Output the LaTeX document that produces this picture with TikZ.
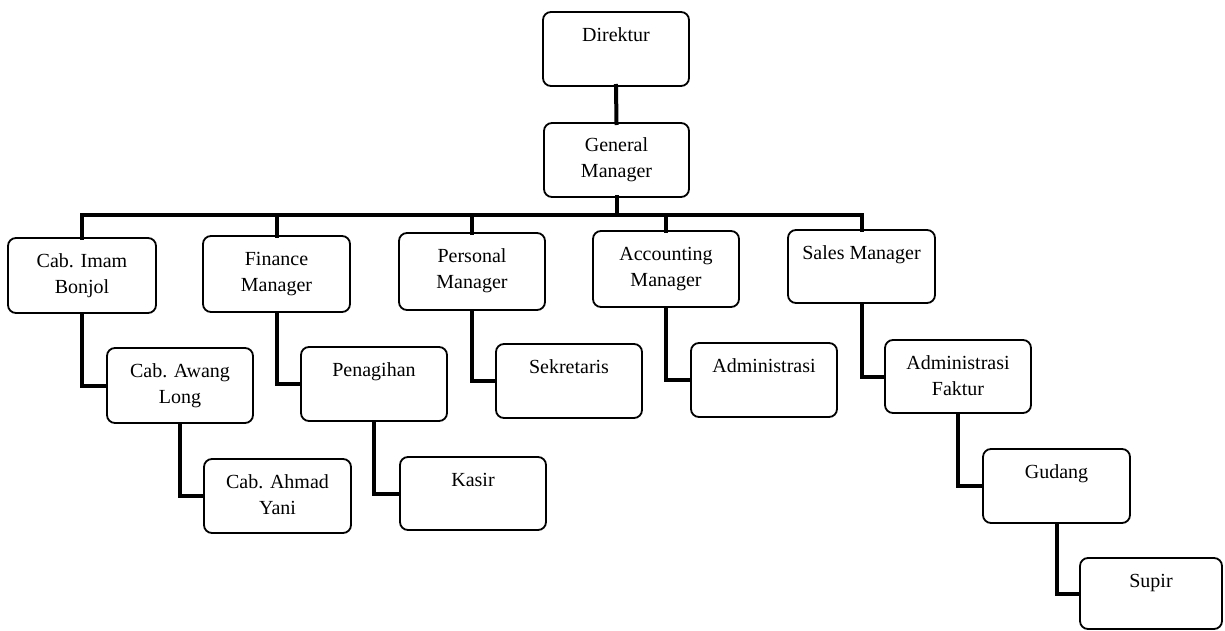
\documentclass[tikz,border=0pt]{standalone}
\usepackage{fontspec}
\setmainfont{Liberation Serif}
\usetikzlibrary{fit}
\begin{document}
\begin{tikzpicture}[x=0.5pt,y=-0.5pt,
  box/.style={draw, rounded corners=4pt, line width=0.9pt, inner sep=0pt, outer sep=0pt},
  lbl/.style={anchor=north, align=center, inner sep=0pt, font=\fontsize{10}{13}\selectfont},
  conn/.style={line width=2pt, line cap=rect}]
\useasboundingbox (0,0) rectangle (1225,631);
% boxes
\node[box, fit={(543,12) (689,86)}] (dir) {};
\node[box, fit={(544,123) (689,197)}] (gm) {};
\node[box, fit={(8,238) (156,313)}] (imam) {};
\node[box, fit={(203,236) (350,312)}] (fin) {};
\node[box, fit={(399,233) (545,310)}] (pers) {};
\node[box, fit={(593,231) (739,307)}] (acc) {};
\node[box, fit={(788,230) (935,303)}] (sales) {};
\node[box, fit={(107,348) (253,423)}] (awang) {};
\node[box, fit={(301,347) (447,421)}] (pen) {};
\node[box, fit={(496,344) (642,418)}] (sek) {};
\node[box, fit={(691,343) (837,417)}] (adm) {};
\node[box, fit={(885,340) (1031,413)}] (admf) {};
\node[box, fit={(204,459) (351,533)}] (ahmad) {};
\node[box, fit={(400,457) (546,530)}] (kasir) {};
\node[box, fit={(983,449) (1130,523)}] (gud) {};
\node[box, fit={(1080,558) (1222,629)}] (supir) {};
% labels
\node[lbl] (dir-t) at ([yshift=-5.5pt]dir.north) {\strut Direktur};
\node[lbl] (gm-t) at ([yshift=-5pt]gm.north) {\strut General\\Manager};
\node[lbl] (imam-t) at ([yshift=-5.5pt]imam.north) {\strut Cab. Imam\\Bonjol};
\node[lbl] (fin-t) at ([yshift=-5.5pt]fin.north) {\strut Finance\\Manager};
\node[lbl] (pers-t) at ([yshift=-5.5pt]pers.north) {\strut Personal\\Manager};
\node[lbl] (acc-t) at ([yshift=-5.5pt]acc.north) {\strut Accounting\\Manager};
\node[lbl] (sales-t) at ([yshift=-5.5pt]sales.north) {\strut Sales Manager};
\node[lbl] (awang-t) at ([yshift=-5.5pt]awang.north) {\strut Cab. Awang\\Long};
\node[lbl] (pen-t) at ([yshift=-5.5pt]pen.north) {\strut Penagihan};
\node[lbl] (sek-t) at ([yshift=-5.5pt]sek.north) {\strut Sekretaris};
\node[lbl] (adm-t) at ([yshift=-5.5pt]adm.north) {\strut Administrasi};
\node[lbl] (admf-t) at ([yshift=-5.5pt]admf.north) {\strut Administrasi\\Faktur};
\node[lbl] (ahmad-t) at ([yshift=-5.5pt]ahmad.north) {\strut Cab. Ahmad\\Yani};
\node[lbl] (kasir-t) at ([yshift=-5.5pt]kasir.north) {\strut Kasir};
\node[lbl] (gud-t) at ([yshift=-5.5pt]gud.north) {\strut Gudang};
\node[lbl] (supir-t) at ([yshift=-5.5pt]supir.north) {\strut Supir};
% connectors
\coordinate (bus) at (617,215);
\draw[conn] (dir.south) -- (gm.north);
\draw[conn] (gm.south) -- (gm.south |- bus);
\draw[conn] (imam.north) -- (imam.north |- bus) -- (sales.north |- bus) -- (sales.north);
\draw[conn] (fin.north) -- (fin.north |- bus);
\draw[conn] (pers.north) -- (pers.north |- bus);
\draw[conn] (acc.north) -- (acc.north |- bus);
\draw[conn, line cap=butt] (imam.south) |- (awang.west);
\draw[conn, line cap=butt] (awang.south) |- (ahmad.west);
\draw[conn, line cap=butt] (fin.south) |- (pen.west);
\draw[conn, line cap=butt] (pen.south) |- (kasir.west);
\draw[conn, line cap=butt] (pers.south) |- (sek.west);
\draw[conn, line cap=butt] (acc.south) |- (adm.west);
\draw[conn, line cap=butt] (sales.south) |- (admf.west);
\draw[conn, line cap=butt] (admf.south) |- (gud.west);
\draw[conn, line cap=butt] (gud.south) |- (supir.west);
\end{tikzpicture}
\end{document}
